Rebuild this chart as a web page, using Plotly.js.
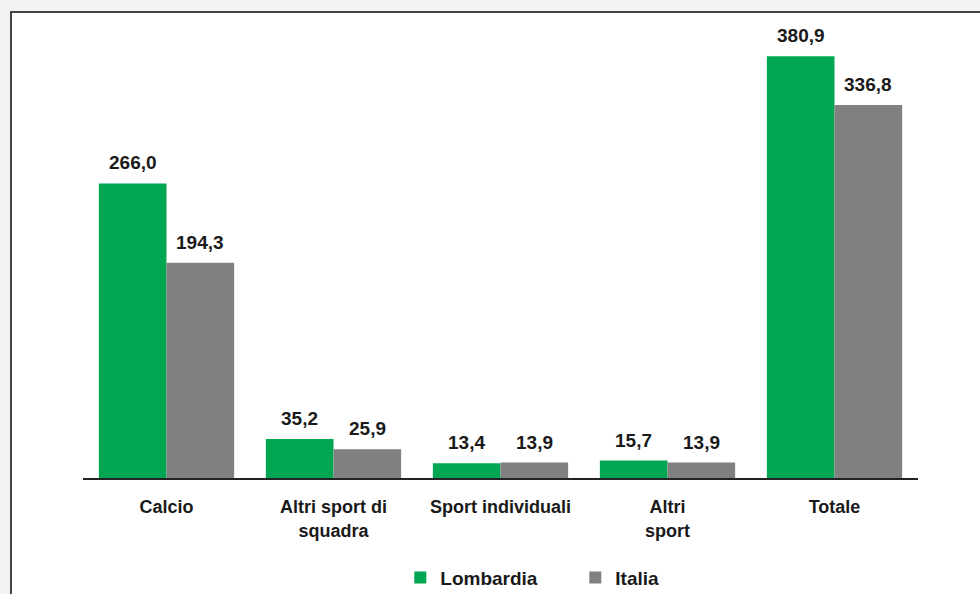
<!DOCTYPE html>
<html>
<head>
<meta charset="utf-8">
<script src="https://cdn.plot.ly/plotly-3.0.1.min.js"></script>
<style>
  html, body { margin: 0; padding: 0; width: 980px; height: 594px; overflow: hidden; background: #f3f3f3; }
  #frame { position: absolute; left: 10px; top: 11px; border-left: 2px solid #444; border-top: 2px solid #444; background: #fff; }
  #chart { width: 968px; height: 581px; }
</style>
</head>
<body>
<div id="frame"><div id="chart"></div></div>
<script>
const categories = ["Calcio", "Altri sport di<br>squadra", "Sport individuali", "Altri<br>sport", "Totale"];
const lombardia = [266.0, 35.2, 13.4, 15.7, 380.9];
const italia = [194.3, 25.9, 13.9, 13.9, 336.8];
const seriesNames = ["Lombardia", "Italia"];
const colors = ["#00a651", "#808080"];

const fmt = v => v.toFixed(1).replace(".", ",");

const traces = [lombardia, italia].map((vals, i) => ({
  type: "bar",
  name: seriesNames[i],
  x: categories,
  y: vals,
  marker: { color: colors[i] },
  hoverinfo: "none"
}));

const plotW = 835;
const bargap = 0.19;
const barHalf = (plotW / categories.length) * (1 - bargap) / 4;

const annotations = [];
[lombardia, italia].forEach((vals, i) => {
  vals.forEach((v, j) => {
    annotations.push({
      x: categories[j], y: v, xref: "x", yref: "y",
      text: fmt(v), showarrow: false,
      xanchor: "center", yanchor: "bottom",
      xshift: i === 0 ? -barHalf : barHalf, yshift: 8,
      font: { family: "Liberation Sans, Arial, sans-serif", size: 19, color: "#1a1a1a", weight: "bold" }
    });
  });
});

const layout = {
  width: 968, height: 581,
  margin: { l: 71, r: 62, t: 22, b: 116 },
  paper_bgcolor: "#ffffff",
  plot_bgcolor: "#ffffff",
  barmode: "group",
  bargap: bargap,
  bargroupgap: 0,
  font: { family: "Liberation Sans, Arial, sans-serif", color: "#1a1a1a" },
  xaxis: {
    type: "category",
    automargin: false,
    showline: true, linecolor: "#222", linewidth: 1.5,
    showgrid: false, zeroline: false,
    ticks: "outside", ticklen: 12, tickcolor: "rgba(0,0,0,0)",
    tickfont: { family: "Liberation Sans, Arial, sans-serif", size: 18, color: "#1a1a1a", weight: "bold" }
  },
  yaxis: {
    range: [0, 400], visible: false, showgrid: false, zeroline: false, automargin: false
  },
  showlegend: true,
  legend: {
    orientation: "h",
    x: 0.38, xanchor: "left",
    yref: "container",
    y: 0.028, yanchor: "middle",
    entrywidth: 130, entrywidthmode: "pixels",
    font: { family: "Liberation Sans, Arial, sans-serif", size: 19, color: "#1a1a1a", weight: "bold" },
    bgcolor: "rgba(0,0,0,0)"
  },
  annotations: annotations
};

Plotly.newPlot("chart", traces, layout, { displayModeBar: false, staticPlot: true });
</script>
</body>
</html>
